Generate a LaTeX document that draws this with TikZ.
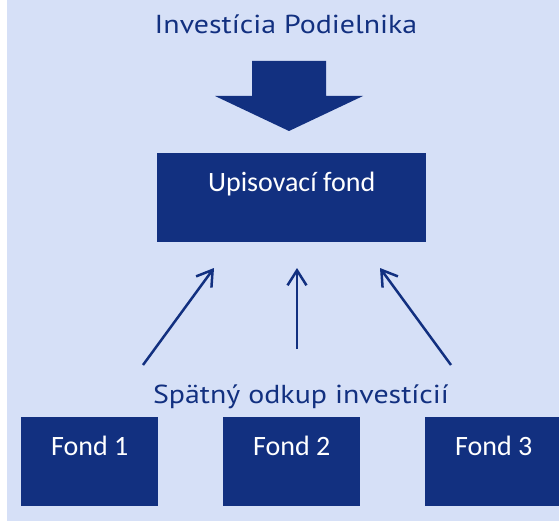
\documentclass[tikz,border=0pt]{standalone}
\usepackage{fontspec}
\newfontfamily\boxfont{Carlito}
\newfontfamily\capfont[FakeStretch=1.15]{PT Sans}
\usetikzlibrary{arrows.meta}
\definecolor{navy}{RGB}{18,48,128}
\definecolor{paleblue}{RGB}{214,224,247}

\begin{document}
\begin{tikzpicture}[x=1pt,y=-1pt,
	fundbox/.style={fill=navy, text=white, font=\boxfont\fontsize{28}{30}\selectfont,
		inner sep=0pt, minimum width=137pt, text height=38pt, text depth=51pt, anchor=north west},
	caption/.style={text=navy, font=\capfont\fontsize{26}{29}\selectfont, inner sep=0pt, anchor=base},
	link/.style={navy, line width=2.5pt, -{Straight Barb[length=15pt,width=19pt]}}]
\clip (0,0) rectangle (559,521);
\fill [paleblue] (7,0) rectangle (559,521);

\node [caption] (invest) at (286,34) {Investícia Podielnika};
\fill [navy] (252,61) -- (326,61) -- (326,96) -- (363,96) -- (289,131) -- (215,96) -- (252,96) -- cycle;
\node [fundbox, minimum width=269pt] (upis) at (157,153) {Upisovací fond};

\node [caption] (odkup) at (301,403) {Spätný odkup investícií};
\node [fundbox] (f1) at (21,417) {Fond 1};
\node [fundbox] (f2) at (223,417) {Fond 2};
\node [fundbox] (f3) at (425,417) {Fond 3};

\coordinate (s1) at (143,365);
\coordinate (s2) at (297,349);
\coordinate (s3) at (451,365);
\coordinate (t1) at (214,268);
\coordinate (t2) at (297,268);
\coordinate (t3) at (380,268);
\draw [link] (s1) -- (t1);
\draw [link] (s2) -- (t2);
\draw [link] (s3) -- (t3);
\end{tikzpicture}
\end{document}
